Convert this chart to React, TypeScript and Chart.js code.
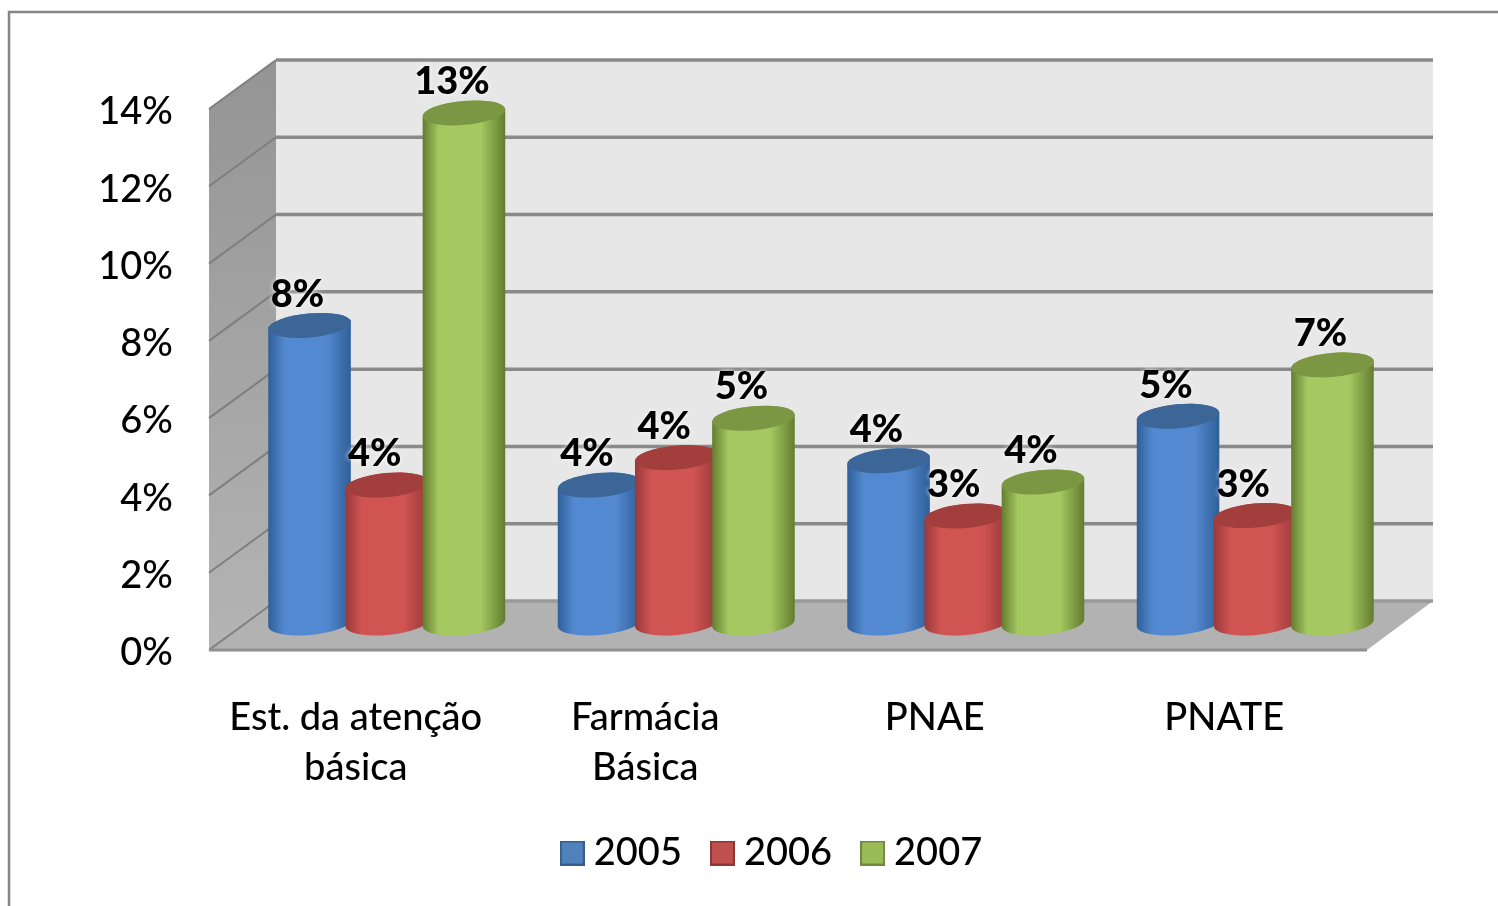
import React, { useEffect, useRef } from "react";
import { Chart, BarController, BarElement, CategoryScale, LinearScale, Legend, Tooltip } from "chart.js";

const categories: (string | string[])[] = [["Est. da atenção", "básica"], ["Farmácia", "Básica"], "PNAE", "PNATE"];
const seriesNames = ["2005", "2006", "2007"];
const values2005 = [7.7, 3.57, 4.2, 5.35];
const values2006 = [3.57, 4.28, 2.77, 2.78];
const values2007 = [13.2, 5.3, 3.65, 6.68];
const yTicksMax = 14;
const yTickStep = 2;

const palette = [
  { edge: "#2f5f99", mid: "#5389d0", top: "#3c6698", swatch: "#4f81bd", border: "#385d8a" },
  { edge: "#98393a", mid: "#d05452", top: "#a23f3d", swatch: "#c0504d", border: "#8c3836" },
  { edge: "#627c30", mid: "#a6c860", top: "#7b9743", swatch: "#9bbb59", border: "#71893f" },
];

const DEPTH_X = 67;
const DEPTH_Y = 49;
const BAR_DX = 33;
const BAR_DY = -27;
const LEGEND_CENTER = 776;
const FONT = "Lato, 'Open Sans', sans-serif";

class CylinderElement extends (BarElement as any) {
  static id = "cylinder";
  static defaults = { ...(BarElement as any).defaults };
  draw(ctx: CanvasRenderingContext2D) {
    const { x, y, base, width } = (this as any).getProps(["x", "y", "base", "width"], true);
    const color = (this as any).options.backgroundColor;
    const c = palette.find((p) => p.swatch === color) || palette[0];
    const cx = x + BAR_DX;
    const top = y + BAR_DY;
    const bottom = base + BAR_DY;
    const rx = width / 2;
    const ry = 12;
    const rot = -0.09;
    const g = ctx.createLinearGradient(cx - rx, 0, cx + rx, 0);
    g.addColorStop(0, c.edge);
    g.addColorStop(0.2, c.mid);
    g.addColorStop(0.7, c.mid);
    g.addColorStop(1, c.edge);
    ctx.save();
    ctx.beginPath();
    ctx.ellipse(cx, bottom, rx, ry, rot, 0, Math.PI, false);
    ctx.ellipse(cx, top, rx, ry, rot, Math.PI, 2 * Math.PI, false);
    ctx.closePath();
    ctx.fillStyle = g;
    ctx.fill();
    ctx.beginPath();
    ctx.ellipse(cx, top, rx, ry, rot, 0, 2 * Math.PI);
    ctx.fillStyle = c.top;
    ctx.fill();
    ctx.restore();
  }
}

class CylinderController extends (BarController as any) {
  static id = "cylinder";
  static defaults = { ...(BarController as any).defaults, dataElementType: "cylinder" };
  static overrides = (BarController as any).overrides;
  // Chart.js paints the first dataset last; the cylinders overlap the other way round,
  // so the pass of dataset 0 paints every series in its natural order.
  draw() {
    const self = this as any;
    if (self.index !== 0) return;
    self.chart.getSortedVisibleDatasetMetas().forEach((meta: any) => {
      meta.data.forEach((el: any) => el.draw(self.chart.ctx));
    });
  }
}

const scenePlugin = {
  id: "scene",
  afterLayout(chart: any) {
    const lg = chart.legend;
    const shift = LEGEND_CENTER - (lg.left + lg.right) / 2;
    lg.left += shift;
    lg.right += shift;
  },
  beforeDraw(chart: any) {
    const { ctx, width, height } = chart;
    ctx.save();
    ctx.fillStyle = "#ffffff";
    ctx.fillRect(0, 0, width, height);
    ctx.strokeStyle = "#868686";
    ctx.lineWidth = 2.5;
    ctx.beginPath();
    ctx.moveTo(9, height);
    ctx.lineTo(9, 12);
    ctx.lineTo(width, 12);
    ctx.stroke();
    ctx.restore();
  },
  beforeDatasetsDraw(chart: any) {
    const { ctx, chartArea: a, scales } = chart;
    const L = a.left, R = a.right, T = a.top, B = a.bottom;
    const dx = DEPTH_X, dy = DEPTH_Y;
    ctx.save();
    // back wall
    ctx.fillStyle = "#e7e7e7";
    ctx.fillRect(L + dx, T - dy, R - L - 1, B - T);
    // left wall
    const lg = ctx.createLinearGradient(0, T - dy, 0, B);
    lg.addColorStop(0, "#949494");
    lg.addColorStop(1, "#b4b4b4");
    ctx.fillStyle = lg;
    ctx.beginPath();
    ctx.moveTo(L, B);
    ctx.lineTo(L + dx, B - dy);
    ctx.lineTo(L + dx, T - dy);
    ctx.lineTo(L, T);
    ctx.closePath();
    ctx.fill();
    // floor
    ctx.fillStyle = "#b2b2b2";
    ctx.beginPath();
    ctx.moveTo(L, B);
    ctx.lineTo(R, B);
    ctx.lineTo(R + dx - 1, B - dy);
    ctx.lineTo(L + dx, B - dy);
    ctx.closePath();
    ctx.fill();
    // gridlines
    ctx.filter = "blur(0.6px)";
    ctx.lineCap = "butt";
    scales.y.ticks.forEach((_t: any, i: number) => {
      const y = scales.y.getPixelForTick(i);
      ctx.lineWidth = 2;
      ctx.strokeStyle = "#7f7f7f";
      ctx.beginPath();
      ctx.moveTo(L, y);
      ctx.lineTo(L + dx, y - dy);
      ctx.stroke();
      ctx.lineWidth = 3.5;
      ctx.strokeStyle = i === 0 ? "#9a9a9a" : "#8a8a8a";
      ctx.beginPath();
      ctx.moveTo(L + dx, y - dy);
      ctx.lineTo(R + dx - 1, y - dy);
      ctx.stroke();
    });
    ctx.lineWidth = 3;
    ctx.strokeStyle = "#8f8f8f";
    ctx.beginPath();
    ctx.moveTo(L, B);
    ctx.lineTo(R, B);
    ctx.stroke();
    ctx.restore();
  },
  afterDatasetsDraw(chart: any) {
    const { ctx } = chart;
    ctx.save();
    ctx.font = `900 38px ${FONT}`;
    ctx.textAlign = "center";
    ctx.textBaseline = "middle";
    ctx.fillStyle = "#000";
    chart.data.datasets.forEach((ds: any, di: number) => {
      chart.getDatasetMeta(di).data.forEach((el: any, i: number) => {
        const label = Math.round(ds.data[i]) + "%";
        const tx = el.x + BAR_DX - 12;
        const ty = el.y + BAR_DY - 31;
        ctx.shadowColor = "rgba(255,255,255,0.9)";
        ctx.shadowBlur = 5;
        ctx.fillText(label, tx, ty);
      });
    });
    ctx.restore();
  },
};

Chart.register(CylinderController as any, CylinderElement as any, BarController, BarElement, CategoryScale, LinearScale, Legend, Tooltip);

function swatch(c: { swatch: string; border: string }) {
  const cv = document.createElement("canvas");
  cv.width = 25;
  cv.height = 25;
  const x = cv.getContext("2d")!;
  x.fillStyle = c.swatch;
  x.strokeStyle = c.border;
  x.lineWidth = 2;
  x.fillRect(1, 1, 23, 23);
  x.strokeRect(1, 1, 23, 23);
  return cv;
}

export default function App() {
  const ref = useRef<HTMLCanvasElement>(null);
  useEffect(() => {
    document.body.style.margin = "0";
    const swatches = palette.map(swatch);
    const series = [values2005, values2006, values2007];
    const chart = new Chart(ref.current!, {
      type: "cylinder" as any,
      plugins: [scenePlugin],
      data: {
        labels: categories as any,
        datasets: seriesNames.map((name, i) => ({
          label: name,
          data: series[i],
          backgroundColor: palette[i].swatch,
          borderColor: palette[i].border,
          categoryPercentage: 0.8,
          barPercentage: 1.074,
          clip: false,
        })) as any,
      },
      options: {
        responsive: false,
        animation: false,
        layout: { padding: { left: 10, right: 131, top: 109, bottom: 24 } },
        plugins: {
          tooltip: { enabled: false },
          legend: {
            position: "bottom",
            labels: {
              usePointStyle: true,
              pointStyleWidth: 5,
              boxHeight: 5,
              padding: 38,
              color: "#000",
              font: { family: FONT, size: 38, weight: 500 },
              generateLabels: () =>
                seriesNames.map((name, i) => ({
                  text: name,
                  datasetIndex: i,
                  pointStyle: swatches[i],
                  fillStyle: palette[i].swatch,
                  strokeStyle: palette[i].border,
                  fontColor: "#000",
                  hidden: false,
                  lineWidth: 0,
                })) as any,
            },
          },
        },
        scales: {
          x: {
            type: "category",
            offset: true,
            grid: { display: false },
            border: { display: false },
            afterFit: (s: any) => { s.height = 146; },
            ticks: {
              color: "#000",
              padding: 35,
              labelOffset: 2,
              autoSkip: false,
              maxRotation: 0,
              minRotation: 0,
              font: { family: FONT, size: 38, weight: 500, lineHeight: 1.315 },
            },
          },
          y: {
            type: "linear",
            min: 0,
            max: yTicksMax,
            grid: { display: false },
            border: { display: false },
            afterFit: (s: any) => { s.width = 199; },
            ticks: {
              color: "#000",
              padding: 28,
              labelOffset: 3,
              stepSize: yTickStep,
              font: { family: FONT, size: 38, weight: 500 },
              callback: (v: any) => v + "%",
            },
          },
        },
      } as any,
    });
    return () => chart.destroy();
  }, []);
  return <canvas ref={ref} width={1498} height={906} style={{ display: "block" }} />;
}
